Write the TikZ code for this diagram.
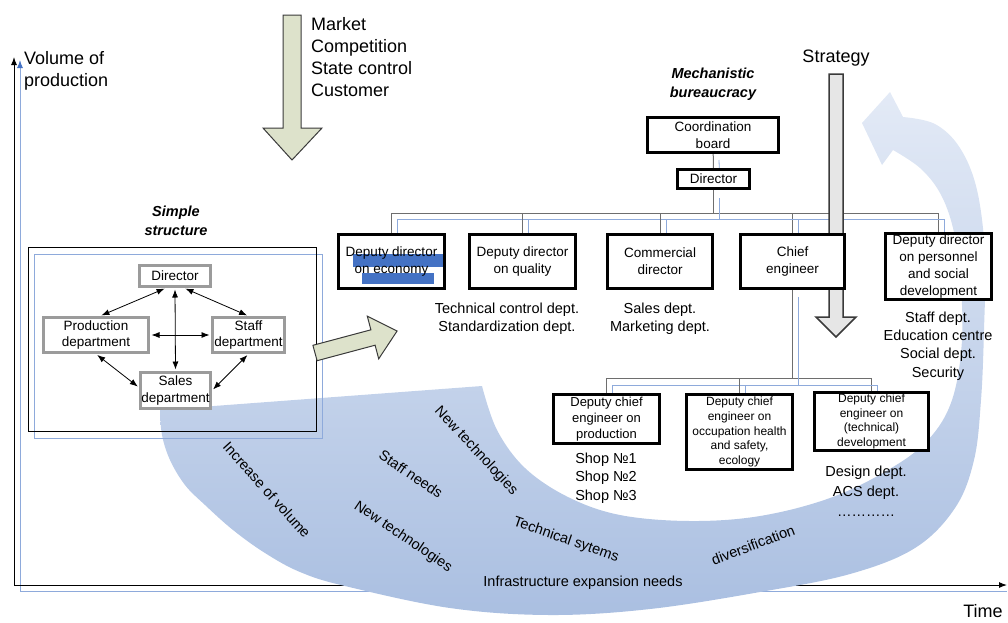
\documentclass[tikz,border=0pt]{standalone}
\usepackage{fontspec}
\setmainfont{Liberation Sans}
\usetikzlibrary{arrows.meta,backgrounds,calc,positioning}

\definecolor{boxgray}{HTML}{9B9B9B}
\definecolor{linkgray}{HTML}{6E6E6E}
\definecolor{linkblue}{HTML}{8EAADB}
\definecolor{hlblue}{HTML}{4472C4}
\definecolor{olive}{HTML}{DDE2CB}
\definecolor{steel}{HTML}{E6E6E6}
\definecolor{arrowline}{HTML}{3A3A3A}
\definecolor{bandtop}{HTML}{E3EAF6}
\definecolor{bandbot}{HTML}{AABFE1}

\tikzset{
  basic/.style     = {draw, fill=white, align=center, inner sep=0pt, line width=3pt},
  simple/.style    = {basic, draw=boxgray, font=\fontsize{13.5}{16.5}\selectfont},
  board/.style     = {basic, font=\fontsize{13.5}{17}\selectfont},
  deputy/.style    = {board, minimum width=106pt, minimum height=54pt},
  subdeputy/.style = {basic, minimum width=106pt, font=\fontsize{12}{14.6}\selectfont},
  dept/.style      = {align=center, inner sep=0pt, font=\fontsize{14.5}{18.3}\selectfont},
  factor/.style    = {inner sep=0pt, font=\fontsize{14.5}{17}\selectfont},
  caption/.style   = {align=center, inner sep=0pt,
                      font=\fontsize{14.5}{19}\selectfont\bfseries\itshape},
  bigtext/.style   = {align=left, inner sep=0pt, font=\fontsize{18}{22}\selectfont},
  link/.style      = {draw=linkgray, line width=1pt},
  bluelink/.style  = {draw=linkblue, line width=0.8pt},
  bigarrow/.style  = {draw=arrowline, line width=1pt, line join=miter}
}

\begin{document}
\begin{tikzpicture}[x=1pt, y=-1pt, >={Latex[length=8pt,width=6pt]}]
\useasboundingbox (0,0) rectangle (1008,622);

% axes
\draw[bluelink, line width=1pt, -{Latex[length=8pt,width=6pt,color=hlblue]}] (20,591) -- (20,60);
\draw[bluelink, line width=1pt] (20,591) -- (1007,591);
\draw[line width=1pt, ->] (14,585) -- (14,57);
\draw[line width=1pt, ->] (14,585) -- (1007,585);
\node[bigtext, anchor=west] (yname) at (24,71) {Volume of\\production};
\node[bigtext] (xname) at (983,611) {Time};

% the growth band
\shade[top color=bandtop, bottom color=bandbot]
  (160,410) -- (482,386)
  -- plot[smooth, tension=0.6] coordinates {(482,386) (497,430) (525,468) (568,497)
     (620,515) (690,521) (760,516) (830,498) (888,470) (928,440) (952,400) (962,340)
     (960,275) (953,228) (940,193) (920,168) (893,150)}
  -- (882,165) -- (862,123) -- (890,92)
  -- plot[smooth, tension=0.6] coordinates {(903,117) (935,124) (960,148) (977,190)
     (985,255) (984,330) (981,400) (974,460) (955,508) (915,548) (850,574) (760,592)
     (650,609) (550,615) (450,608) (345,586) (300,572) (265,553) (233,530) (205,505)
     (185,485) (170,460) (162,435) (160,410)}
  -- cycle;

% factors along the band
\node[factor, rotate=-48] (fvol) at (267,490) {Increase of volume};
\node[factor, rotate=-34] (fstaff) at (411,474) {Staff needs};
\node[factor, rotate=-47] (fnew1) at (476,451) {New technologies};
\node[factor, rotate=-34] (fnew2) at (403,537) {New technologies};
\node[factor, rotate=-19] (ftech) at (566,540) {Technical sytems};
\node[factor, rotate=21] (fdiv) at (753,545) {diversification};
\node[factor] (finfra) at (583,583) {Infrastructure expansion needs};

% simple structure
\draw[bluelink, line width=1pt] (34,254) rectangle (322,438);
\draw[line width=1pt] (28,247) rectangle (316,431);
\node[caption] (stitle) at (176,221) {Simple\\structure};

\node[simple, minimum width=71pt, minimum height=21pt] (sdir) at (175,276) {Director};
\node[simple, minimum width=105pt, minimum height=35pt] (sprod) at (96,335) {Production\\department};
\node[simple, minimum width=72pt, minimum height=35pt] (sstaff) at (248.5,335) {Staff\\department};
\node[simple, minimum width=70pt, minimum height=36pt] (ssales) at (175.5,390.5) {Sales\\department};

\begin{scope}[line width=0.8pt, <->, shorten <=1.5pt, shorten >=1.5pt]
\draw ([xshift=-9pt]sdir.south) -- ([xshift=4pt]sprod.north);
\draw ([xshift=9pt]sdir.south) -- (sstaff.north);
\draw (sdir.south) -- (ssales.north);
\draw (sprod.east) -- (sstaff.west);
\draw (sprod.south) -- ([yshift=3pt]ssales.west);
\draw (sstaff.south) -- (ssales.east);
\end{scope}

% big arrows
\filldraw[bigarrow, fill=olive] (312.9,345.3) -- (370.9,329.8) -- (367.3,316.2) -- (397.1,331)
  -- (378.7,358.8) -- (375.1,345.2) -- (317.1,360.7) -- cycle;
\filldraw[bigarrow, fill=olive] (283,15) -- (301,15) -- (301,128) -- (322,128) -- (292,160)
  -- (263,128) -- (283,128) -- cycle;
\node[bigtext, anchor=west] (forces) at (311,57) {Market\\Competition\\State control\\Customer};

% mechanistic bureaucracy
\node[caption] (mtitle) at (713,84) {Mechanistic\\bureaucracy};
\node[bigtext] (strat) at (836,58) {Strategy};

\node[board, minimum width=131pt, minimum height=35pt] (cb) at (713,135) {Coordination\\board};
\node[board, minimum width=72pt, minimum height=19pt] (dir2) at (713.5,179) {Director};

\node[deputy, path picture={
    \fill[hlblue] ($(path picture bounding box.north west)+(14.5pt,-19.5pt)$) rectangle ++(91pt,-13pt);
    \fill[hlblue] ($(path picture bounding box.north west)+(23.5pt,-38.5pt)$) rectangle ++(72pt,-11pt);}]
  (ecn) at (391.5,261.5) {Deputy director\\on economy};
\node[deputy] (qual) at (522.5,261.5) {Deputy director\\on quality};
\node[deputy, minimum width=105pt] (comm) at (660,261.5) {Commercial\\director};
\node[deputy, minimum width=104pt] (chief) at (792.5,261.5) {Chief\\engineer};
\node[deputy, minimum height=66pt] (pers) at (938.5,266.5) {Deputy director\\on personnel\\and social\\development};

\node[subdeputy, font=\fontsize{13}{16}\selectfont, minimum height=49pt] (prod) at (606.5,419) {Deputy chief\\engineer on\\production};
\node[subdeputy, minimum height=75pt] (safety) at (739.5,432) {Deputy chief\\engineer on\\occupation health\\and safety,\\ecology};
\node[subdeputy, minimum width=114pt, minimum height=58pt] (tdev) at (871.5,421.5) {Deputy chief\\engineer on\\(technical)\\development};

% departments under the posts
\node[dept] (qualdept) at (507,319) {Technical control dept.\\Standardization dept.};
\node[dept] (commdept) at (660,319) {Sales dept.\\Marketing dept.};
\node[dept] (persdept) at (938,346) {Staff dept.\\Education centre\\Social dept.\\Security};
\node[dept] (proddept) at (606,478) {Shop №1\\Shop №2\\Shop №3};
\node[dept, font=\fontsize{14.5}{20}\selectfont] (tdevdept) at (866,491) {Design dept.\\ACS dept.\\…………};

% links and the strategy arrow behind the posts
\begin{pgfonlayer}{background}
\draw[link] (cb) -- (dir2);
\draw[bluelink] ([xshift=6pt,yshift=-6pt]cb.south) -- ([xshift=6pt,yshift=-7pt]dir2.north);
\foreach \n in {ecn,qual,comm,chief,pers}{
  \draw[link] (dir2.south) -- ++(0,23.5) -| (\n.north);
  \draw[bluelink] ([xshift=6pt,yshift=-8pt]dir2.south) -- ++(0,21.5) -| ([xshift=6pt,yshift=-6pt]\n.north);
}
\foreach \n in {prod,safety,tdev}{
  \draw[link] (chief.south) -- ++(0,88.5) -| (\n.north);
  \draw[bluelink] ([xshift=6pt,yshift=-7pt]chief.south) -- ++(0,88.5) -| ([xshift=6pt,yshift=-6pt]\n.north);
}
\filldraw[bigarrow, fill=steel, line width=1.5pt] (829,74) -- (843,74) -- (843,317) -- (856,317)
  -- (836,337) -- (816,317) -- (829,317) -- cycle;
\end{pgfonlayer}
\end{tikzpicture}
\end{document}
